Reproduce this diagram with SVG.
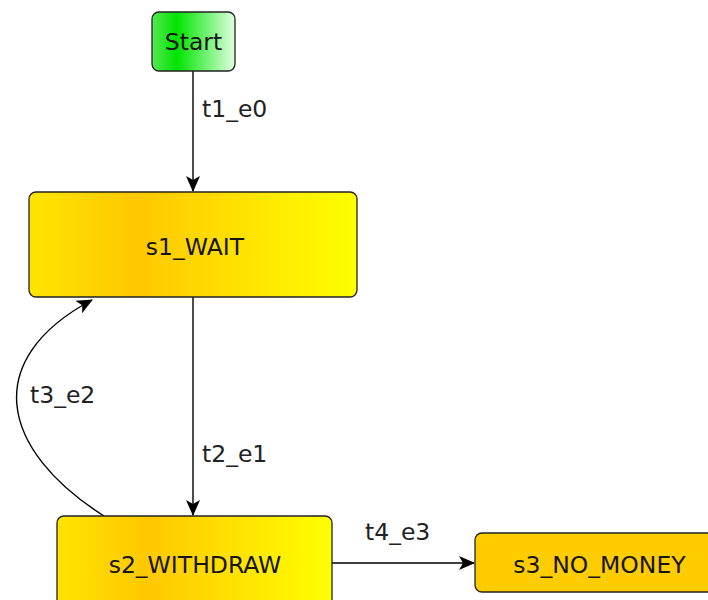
<svg xmlns="http://www.w3.org/2000/svg" width="708" height="600" viewBox="0 0 708 600">
<defs>
<linearGradient id="gGreen" x1="0" y1="0" x2="1" y2="0">
<stop offset="0" stop-color="#55e855"/>
<stop offset="0.3" stop-color="#00e400"/>
<stop offset="1" stop-color="#e0ffe0"/>
</linearGradient>
<linearGradient id="gYellow" x1="0" y1="0" x2="1" y2="0">
<stop offset="0" stop-color="#ffe400"/>
<stop offset="0.33" stop-color="#ffc800"/>
<stop offset="1" stop-color="#ffff00"/>
</linearGradient>
<marker id="arr" viewBox="0 0 16 14" refX="15" refY="7" markerWidth="16" markerHeight="14" markerUnits="userSpaceOnUse" orient="auto">
<path d="M0,0 L16,7 L0,14 L4,7 Z" fill="#000"/>
</marker>
<style>
.node{stroke:#222;stroke-width:1.3}
.lbl{font-family:"DejaVu Sans",sans-serif;font-size:23.5px;fill:#151515;text-anchor:middle}
.elbl{font-family:"DejaVu Sans",sans-serif;font-size:23.5px;fill:#222}
.edge{fill:none;stroke:#000;stroke-width:1.4;marker-end:url(#arr)}
</style>
</defs>
<rect width="708" height="600" fill="#fff"/>
<g id="edges">
<path class="edge" d="M193,71 L193,191"/>
<path class="edge" d="M193,297 L193,515"/>
<path class="edge" d="M104,516 C0,450 -20,360 92,300"/>
<path class="edge" d="M332,563 L474,563"/>
<text class="elbl" x="202" y="117">t1_e0</text>
<text class="elbl" x="202" y="462">t2_e1</text>
<text class="elbl" x="30" y="403">t3_e2</text>
<text class="elbl" x="365" y="540">t4_e3</text>
</g>
<g id="start">
<rect class="node" x="152" y="12" width="83" height="59" rx="7" fill="url(#gGreen)"/>
<text class="lbl" x="193.5" y="50">Start</text>
</g>
<g id="s1_WAIT">
<rect class="node" x="29" y="192" width="328" height="105" rx="7" fill="url(#gYellow)"/>
<text class="lbl" x="195" y="255">s1_WAIT</text>
</g>
<g id="s2_WITHDRAW">
<rect class="node" x="57" y="516" width="275" height="105" rx="7" fill="url(#gYellow)"/>
<text class="lbl" x="195" y="573">s2_WITHDRAW</text>
</g>
<g id="s3_NO_MONEY">
<rect class="node" x="475" y="533" width="260" height="59" rx="7" fill="#ffcc00"/>
<text class="lbl" x="599.5" y="573">s3_NO_MONEY</text>
</g>
</svg>
